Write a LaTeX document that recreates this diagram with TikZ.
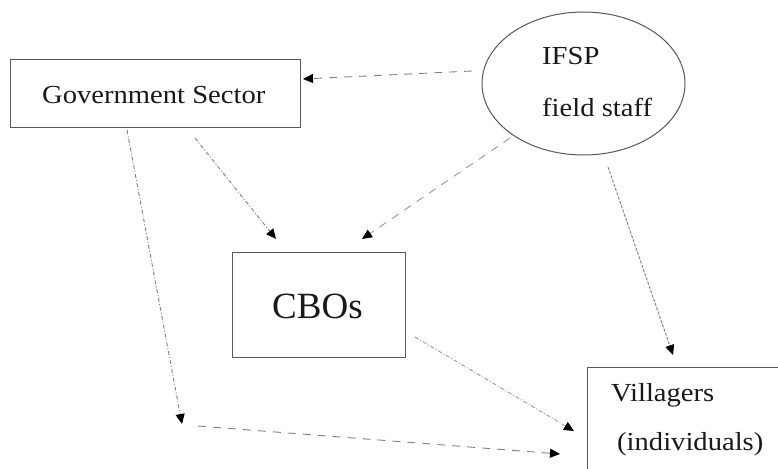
\documentclass[tikz,border=0pt]{standalone}
\usepackage{fontspec}
\setmainfont{Liberation Serif}
\newfontfamily\widefont[FakeStretch=1.1]{Liberation Serif}
\usetikzlibrary{arrows.meta,shapes.geometric}
\begin{document}
\begin{tikzpicture}[x=1pt,y=-1pt,
  box/.style={draw=black!65,line width=1pt,inner sep=0pt},
  lbl/.style={anchor=base west,inner sep=0pt,text=black!90,font=\widefont\fontsize{26}{28}\selectfont},
  conn/.style={draw=black!50,line width=0.9pt,-{Triangle[length=10pt,width=9pt]},arrows={[color=black]}},
  longdash/.style={dash pattern=on 8pt off 7pt},
  dotdash/.style={dash pattern=on 4pt off 2pt on 1pt off 2pt},
  dense/.style={dash pattern=on 3pt off 1.5pt}]
\clip (0,0) rectangle (778,468);
\fill[white] (0,0) rectangle (778,468);
% nodes
\node[box,minimum width=290pt,minimum height=67pt] (gov) at (155,93.5) {};
\node[box,ellipse,minimum width=203pt,minimum height=143pt] (ifsp) at (583.5,83.5) {};
\node[box,minimum width=173pt,minimum height=105pt] (cbo) at (318.5,304.5) {};
\node[box,minimum width=220pt,minimum height=140pt] (vil) at (697,437) {};
% texts
\node[lbl] (govt) at (42,104) {Government Sector};
\node[lbl] (ifspt) at (542,65) {IFSP};
\node[lbl] (fieldt) at (542,117) {field staff};
\node[lbl,font=\fontsize{37}{40}\selectfont] (cbot) at (272,318) {CBOs};
\node[lbl] (vilt) at (611,401) {Villagers};
\node[lbl] (indt) at (617,450) {(individuals)};
% connector ends
\coordinate (a1) at (472,71);   \coordinate (a2) at (303,79);
\coordinate (b1) at (195,138);  \coordinate (b2) at (276,239);
\coordinate (c1) at (510,138);  \coordinate (c2) at (362,239);
\coordinate (d1) at (608,167);  \coordinate (d2) at (673,355);
\coordinate (e1) at (127,130);  \coordinate (e2) at (182,424);
\coordinate (f1) at (198,426);  \coordinate (f2) at (560,454);
\coordinate (g1) at (415,337);  \coordinate (g2) at (574,431);
% connectors
\draw[conn,longdash] (a1) -- (a2);
\draw[conn,dotdash] (b1) -- (b2);
\draw[conn,longdash,draw=black!40] (c1) -- (c2);
\draw[conn,dense] (d1) -- (d2);
\draw[conn,dotdash] (e1) -- (e2);
\draw[conn,longdash] (f1) -- (f2);
\draw[conn,dotdash,draw=black!40] (g1) -- (g2);
\end{tikzpicture}
\end{document}
